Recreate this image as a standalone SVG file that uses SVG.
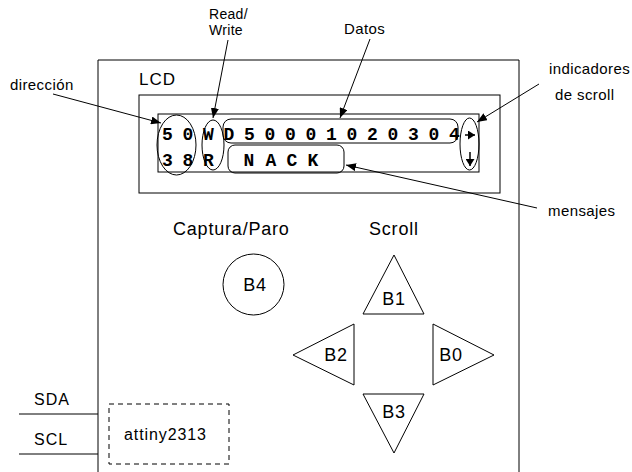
<svg xmlns="http://www.w3.org/2000/svg" width="632" height="472" viewBox="0 0 632 472">
<style>
  .ln{fill:none;stroke:#000;stroke-width:1}
  .lbl{font-family:"Liberation Sans",Arial,sans-serif;font-size:15px;letter-spacing:0.4px;fill:#000}
  .big{font-family:"Liberation Sans",Arial,sans-serif;font-size:18px;letter-spacing:0.8px;fill:#000}
  .mono{font-family:"Liberation Mono","Courier New",monospace;font-size:18px;font-weight:bold;fill:#000;text-anchor:middle}
  .ptr{fill:none;stroke:#000;stroke-width:1;marker-end:url(#ah)}
  .sm{fill:none;stroke:#000;stroke-width:1.5;marker-end:url(#ahs)}
</style>
<defs>
  <marker id="ah" viewBox="0 0 10 8" refX="10" refY="4" markerWidth="10" markerHeight="8" markerUnits="userSpaceOnUse" orient="auto">
    <path d="M0,0 L10,4 L0,8 Z" fill="#000"/>
  </marker>
  <marker id="ahs" viewBox="0 0 7 9" refX="7" refY="4.5" markerWidth="7" markerHeight="9" markerUnits="userSpaceOnUse" orient="auto">
    <path d="M0,0 L7,4.5 L0,9 Z" fill="#000"/>
  </marker>
</defs>
<rect width="632" height="472" fill="#fff"/>

<g id="device">
  <path class="ln" d="M98,472 V60 H519 V472"/>
</g>

<g id="lcd">
  <rect class="ln" x="139" y="95" width="361" height="98"/>
  <rect class="ln" x="158" y="114" width="321" height="58"/>
  <text class="lbl" x="139" y="85" style="font-size:17px;letter-spacing:1px">LCD</text>
</g>

<g id="direccion-field">
  <ellipse class="ln" cx="176.5" cy="145" rx="19.5" ry="30"/>
  <text class="mono" x="167.5 188" y="140">50</text>
  <text class="mono" x="167.5 188" y="166">38</text>
</g>

<g id="rw-field">
  <ellipse class="ln" cx="213" cy="145" rx="11" ry="25"/>
  <text class="mono" x="208.5" y="140">W</text>
  <text class="mono" x="208.5" y="166">R</text>
</g>

<g id="datos-field">
  <rect class="ln" x="223" y="119" width="235" height="24" rx="8"/>
  <text class="mono" x="229 249.5 270 290.5 311 331.5 352 372.5 393 413.5 434 454.5" y="140">D50001020304</text>
</g>

<g id="mensajes-field">
  <rect class="ln" x="228" y="145" width="116" height="28" rx="7"/>
  <text class="mono" x="249 271 292 313" y="166">NACK</text>
</g>

<g id="scroll-indicators">
  <ellipse class="ln" cx="469.5" cy="144" rx="9.5" ry="26"/>
  <line class="sm" x1="465" y1="135" x2="475" y2="135"/>
  <line class="sm" x1="470" y1="152" x2="470" y2="166"/>
</g>

<g id="labels">
  <text class="lbl" x="10" y="90">dirección</text>
  <text class="lbl" style="font-size:14px;letter-spacing:0.3px"><tspan x="209" y="18.5">Read/</tspan><tspan x="209" y="35">Write</tspan></text>
  <text class="lbl" x="344" y="34">Datos</text>
  <text class="lbl" x="549" y="74">indicadores</text>
  <text class="lbl" x="555" y="100">de scroll</text>
  <text class="lbl" x="548" y="216">mensajes</text>
</g>

<g id="connectors">
  <line class="ptr" x1="53" y1="94" x2="161" y2="123"/>
  <line class="ptr" x1="228" y1="40" x2="213" y2="118"/>
  <line class="ptr" x1="370" y1="39" x2="340" y2="118"/>
  <line class="ptr" x1="539" y1="84" x2="477" y2="122"/>
  <line class="ptr" x1="537" y1="208" x2="346" y2="165"/>
</g>

<g id="captura">
  <text class="big" x="173" y="235">Captura/Paro</text>
</g>
<g id="scroll-title">
  <text class="big" x="369" y="235">Scroll</text>
</g>

<g id="B4">
  <circle class="ln" cx="253.5" cy="284.5" r="30.5"/>
  <text class="big" x="255" y="291" text-anchor="middle">B4</text>
</g>
<g id="B1">
  <polygon class="ln" points="394,255 424,314 363,314"/>
  <text class="big" x="394" y="305" text-anchor="middle">B1</text>
</g>
<g id="B2">
  <polygon class="ln" points="293,355 354,324 354,385"/>
  <text class="big" x="336" y="361" text-anchor="middle">B2</text>
</g>
<g id="B0">
  <polygon class="ln" points="494,355 433,324 433,385"/>
  <text class="big" x="451" y="361" text-anchor="middle">B0</text>
</g>
<g id="B3">
  <polygon class="ln" points="363,394 424,394 394,453"/>
  <text class="big" x="394" y="418" text-anchor="middle">B3</text>
</g>

<g id="bus">
  <line class="ln" x1="19" y1="414" x2="98" y2="414"/>
  <line class="ln" x1="19" y1="454" x2="98" y2="454"/>
  <text class="lbl" x="34" y="405" style="font-size:16px;letter-spacing:1px">SDA</text>
  <text class="lbl" x="34" y="445" style="font-size:16px;letter-spacing:1px">SCL</text>
</g>

<g id="attiny2313">
  <rect class="ln" x="109" y="404" width="120" height="60" stroke-dasharray="5,4"/>
  <text class="lbl" x="124" y="440" style="font-size:16px;letter-spacing:0.9px">attiny2313</text>
</g>
</svg>
